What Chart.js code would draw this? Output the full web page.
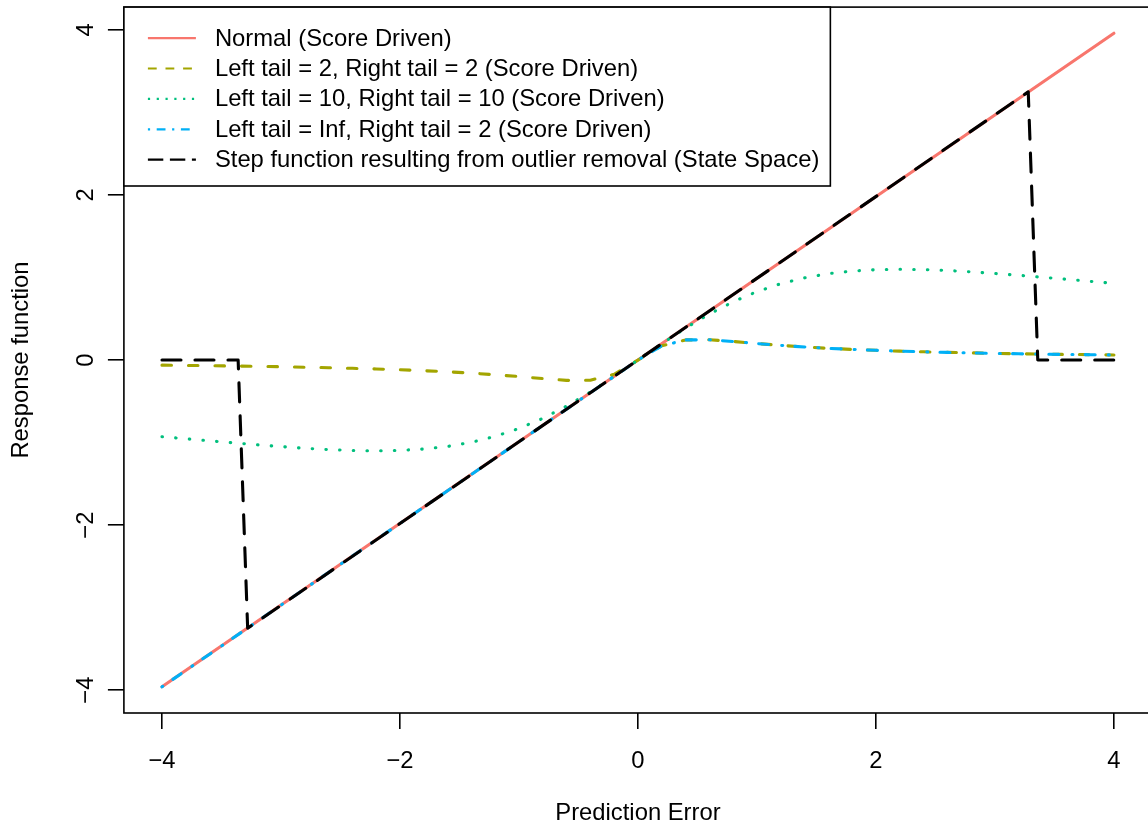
<!DOCTYPE html>
<html>
<head>
<meta charset="utf-8">
<script src="https://cdn.jsdelivr.net/npm/chart.js@4.4.1/dist/chart.umd.min.js"></script>
<style>
  html, body { margin: 0; padding: 0; background: #fff; overflow: hidden; }
  #wrap { position: absolute; left: 0; top: 0; width: 1160px; height: 834px; }
</style>
</head>
<body>
<div id="wrap"><canvas id="myChart"></canvas></div>
<script>
// grid of prediction errors used for the smooth curves
var xGrid = [-4.0, -3.8, -3.6, -3.4, -3.2, -3.0, -2.8, -2.6, -2.4, -2.2, -2.0, -1.8, -1.6, -1.4, -1.2, -1.0, -0.8, -0.6, -0.4, -0.2,
             0, 0.2, 0.4, 0.6, 0.8, 1.0, 1.2, 1.4, 1.6, 1.8, 2.0, 2.2, 2.4, 2.6, 2.8, 3.0, 3.2, 3.4, 3.6, 3.8, 4.0];

var normalX = [-4, 4];
var normalY = [-3.96, 3.96];

var tail2Y = [-0.062, -0.065, -0.068, -0.072, -0.076, -0.081, -0.087, -0.093, -0.100, -0.108, -0.118, -0.129, -0.142, -0.158, -0.178, -0.200, -0.225, -0.246, -0.244, -0.172,
              0, 0.172, 0.244, 0.246, 0.225, 0.200, 0.178, 0.158, 0.142, 0.129, 0.118, 0.108, 0.100, 0.093, 0.087, 0.081, 0.076, 0.072, 0.068, 0.065, 0.062];

var tail10Y = [-0.929, -0.954, -0.979, -1.003, -1.027, -1.049, -1.069, -1.085, -1.096, -1.100, -1.095, -1.078, -1.047, -0.996, -0.925, -0.829, -0.707, -0.558, -0.387, -0.198,
               0, 0.198, 0.387, 0.558, 0.707, 0.829, 0.925, 0.996, 1.047, 1.078, 1.095, 1.100, 1.096, 1.085, 1.069, 1.049, 1.027, 1.003, 0.979, 0.954, 0.929];

var infTail2X = [-4, 0, 0.2, 0.4, 0.6, 0.8, 1.0, 1.2, 1.4, 1.6, 1.8, 2.0, 2.2, 2.4, 2.6, 2.8, 3.0, 3.2, 3.4, 3.6, 3.8, 4.0];
var infTail2Y = [-3.96, 0, 0.172, 0.244, 0.246, 0.225, 0.200, 0.178, 0.158, 0.142, 0.129, 0.118, 0.108, 0.100, 0.093, 0.087, 0.081, 0.076, 0.072, 0.068, 0.065, 0.062];

var stepX = [-4, -3.36, -3.28, 3.28, 3.36, 4];
var stepY = [0, 0, -3.25, 3.25, 0, 0];

var xTicks = [-4, -2, 0, 2, 4];
var xTickLabels = ['\u22124', '\u22122', '0', '2', '4'];
var yTicks = [-4, -2, 0, 2, 4];
var yTickLabels = ['\u22124', '\u22122', '0', '2', '4'];

var seriesLabels = [
    'Normal (Score Driven)',
    'Left tail = 2, Right tail = 2 (Score Driven)',
    'Left tail = 10, Right tail = 10 (Score Driven)',
    'Left tail = Inf, Right tail = 2 (Score Driven)',
    'Step function resulting from outlier removal (State Space)'
];

var FONT_FAMILY = '"Liberation Sans", Arial, Helvetica, sans-serif';
var FONT_SIZE = 23.8;
var LW = 3.1;
var LEGEND_LW = 2.2;

function toPoints(xs, ys) {
    var out = [];
    for (var i = 0; i < xs.length; i++) {
        out.push({ x: xs[i], y: ys[i] });
    }
    return out;
}

function lineSet(label, xs, ys, color, dash, legendDash, order) {
    return {
        label: label,
        data: toPoints(xs, ys),
        borderColor: color,
        backgroundColor: color,
        borderWidth: LW,
        borderDash: dash,
        legendDash: legendDash,
        borderCapStyle: 'round',
        borderJoinStyle: 'round',
        pointRadius: 0,
        showLine: true,
        fill: false,
        tension: 0,
        order: order
    };
}

// box, rotated y labels, axis titles and legend, drawn the way R does them
var rPlot = {
    id: 'rPlot',
    afterDraw: function (chart) {
        var ctx = chart.ctx;
        var a = chart.chartArea;
        var ys = chart.scales.y;
        var font = FONT_SIZE + 'px ' + FONT_FAMILY;
        ctx.save();

        ctx.strokeStyle = '#000';
        ctx.lineWidth = 1.6;
        ctx.setLineDash([]);
        ctx.strokeRect(a.left, a.top, a.right - a.left, a.bottom - a.top);

        ctx.fillStyle = '#000';
        ctx.font = font;
        ctx.textAlign = 'center';
        ctx.textBaseline = 'alphabetic';
        ys.ticks.forEach(function (t, i) {
            var py = ys.getPixelForValue(t.value);
            ctx.save();
            ctx.translate(93, py);
            ctx.rotate(-Math.PI / 2);
            ctx.fillText(yTickLabels[i], 0, 0);
            ctx.restore();
        });

        ctx.fillText('Prediction Error', (a.left + a.right) / 2, 820);
        ctx.save();
        ctx.translate(28, (a.top + a.bottom) / 2);
        ctx.rotate(-Math.PI / 2);
        ctx.fillText('Response function', 0, 0);
        ctx.restore();

        // legend
        var sets = chart.data.datasets;
        var textX = a.left + 91;
        var maxW = 0;
        sets.forEach(function (ds) {
            maxW = Math.max(maxW, ctx.measureText(ds.label).width);
        });
        var boxL = a.left, boxT = a.top, boxR = textX + maxW + 11, boxB = 186;
        ctx.fillStyle = '#fff';
        ctx.fillRect(boxL, boxT, boxR - boxL, boxB - boxT);
        ctx.strokeRect(boxL, boxT, boxR - boxL, boxB - boxT);
        ctx.textAlign = 'left';
        ctx.textBaseline = 'middle';
        sets.forEach(function (ds, i) {
            var ry = boxT + 31 + 30.4 * i;
            ctx.beginPath();
            ctx.lineWidth = LEGEND_LW;
            ctx.lineCap = 'butt';
            ctx.strokeStyle = ds.borderColor;
            ctx.setLineDash(ds.legendDash);
            ctx.moveTo(a.left + 24, ry);
            ctx.lineTo(a.left + 72, ry);
            ctx.stroke();
            ctx.setLineDash([]);
            ctx.fillStyle = '#000';
            ctx.fillText(ds.label, textX, ry + 1);
        });
        ctx.restore();
    }
};

var ctx = document.getElementById('myChart');
var myChart = new Chart(ctx, {
    type: 'scatter',
    data: {
        datasets: [
            lineSet(seriesLabels[0], normalX, normalY, '#F8766D', [], [], 4),
            lineSet(seriesLabels[1], xGrid, tail2Y, '#A3A500', [9.5, 17], [8.8, 8.8], 3),
            lineSet(seriesLabels[2], xGrid, tail10Y, '#00BF7D', [0.5, 13.2], [2.2, 6.6], 2),
            lineSet(seriesLabels[3], infTail2X, infTail2Y, '#00B0F6', [1, 12.2, 10, 13.1], [2.2, 6.6, 8.8, 6.6], 1),
            lineSet(seriesLabels[4], stepX, stepY, '#000000', [19, 14], [15.4, 6.6], 0)
        ]
    },
    options: {
        responsive: true,
        maintainAspectRatio: false,
        animation: false,
        layout: {
            padding: { left: 0, top: 7.1, right: 8, bottom: 0 }
        },
        plugins: {
            legend: { display: false },
            tooltip: { enabled: false }
        },
        scales: {
            x: {
                type: 'linear',
                min: -4.32,
                max: 4.32,
                afterBuildTicks: function (scale) {
                    scale.ticks = xTicks.map(function (v) { return { value: v }; });
                },
                afterFit: function (scale) {
                    scale.height = 121;
                },
                ticks: {
                    color: '#000',
                    font: { family: FONT_FAMILY, size: FONT_SIZE },
                    padding: 18,
                    maxRotation: 0,
                    autoSkip: false,
                    callback: function (value, index) {
                        return xTickLabels[index];
                    }
                },
                grid: {
                    drawOnChartArea: false,
                    drawTicks: true,
                    tickLength: 16,
                    tickColor: '#000',
                    tickWidth: 1.6,
                    color: '#000',
                    lineWidth: 1.6
                },
                border: { display: false }
            },
            y: {
                type: 'linear',
                min: -4.277,
                max: 4.277,
                afterBuildTicks: function (scale) {
                    scale.ticks = yTicks.map(function (v) { return { value: v }; });
                },
                afterFit: function (scale) {
                    scale.width = 123.9;
                },
                ticks: { display: false },
                grid: {
                    drawOnChartArea: false,
                    drawTicks: true,
                    tickLength: 16,
                    tickColor: '#000',
                    tickWidth: 1.6,
                    color: '#000',
                    lineWidth: 1.6
                },
                border: { display: false }
            }
        }
    },
    plugins: [rPlot]
});
</script>
</body>
</html>
